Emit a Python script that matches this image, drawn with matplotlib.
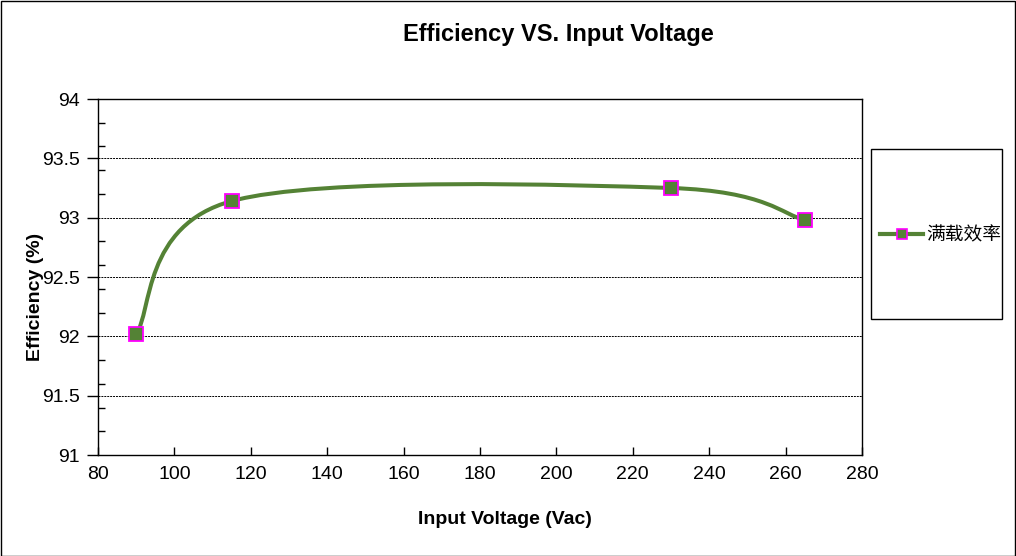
import numpy as np
import matplotlib.pyplot as plt
from matplotlib.path import Path
from matplotlib.patches import PathPatch, Rectangle
from matplotlib.lines import Line2D

plt.rcParams['font.family'] = ['Liberation Sans', 'Noto Sans CJK SC', 'DejaVu Sans']

# data
voltage = [90, 115, 230, 265]
efficiency = [92.02, 93.14, 93.25, 92.98]
series_name = '满载效率'
y_ticks = [91, 91.5, 92, 92.5, 93, 93.5, 94]
x_ticks = [80, 100, 120, 140, 160, 180, 200, 220, 240, 260, 280]

W, H = 1016, 556
fig = plt.figure(figsize=(W / 100, H / 100), dpi=100)
ax = fig.add_axes([98 / W, 1 - 455 / H, (862 - 98) / W, (455 - 99) / H])

line_color = '#548235'

# excel-style smoothed line (bezier through the points)
pts = np.column_stack([voltage, efficiency]).astype(float)
n = len(pts)
verts = [pts[0]]
codes = [Path.MOVETO]
for i in range(n - 1):
    p_prev = pts[i - 1] if i > 0 else pts[i]
    p_next2 = pts[i + 2] if i + 2 < n else pts[i + 1]
    c1 = pts[i] + (pts[i + 1] - p_prev) / 6
    c2 = pts[i + 1] - (p_next2 - pts[i]) / 6
    verts += [c1, c2, pts[i + 1]]
    codes += [Path.CURVE4] * 3
ax.add_patch(PathPatch(Path(verts, codes), facecolor='none', edgecolor=line_color,
                       lw=2.9, capstyle='round', zorder=3))
ax.plot(voltage, efficiency, ls='none', marker='s', ms=10.5, mfc=line_color,
        mec='#FF00FF', mew=1.3, zorder=4)

ax.set_xlim(80, 280)
ax.set_ylim(91, 94)
ax.set_xticks(x_ticks)
ax.set_yticks(y_ticks)
ax.set_yticklabels(['91', '91.5', '92', '92.5', '93', '93.5', '94'])
ax.set_yticks(np.arange(91.2, 94, 0.2), minor=True)
ax.tick_params(axis='y', which='major', direction='out', length=8, width=1,
               labelsize=14, pad=5)
ax.tick_params(axis='y', which='minor', direction='in', length=5, width=1)
ax.tick_params(axis='x', which='major', direction='in', length=6, width=1,
               labelsize=14, pad=8)
for y in y_ticks[1:-1]:
    ax.axhline(y, color='black', lw=0.7, ls=(0, (2, 1)), zorder=1)
for s in ax.spines.values():
    s.set_linewidth(1)

fig.text(558 / W, 1 - 35 / H, 'Efficiency VS. Input Voltage', fontsize=17,
         fontweight='bold', ha='center', va='center')
fig.text(505 / W, 1 - 519 / H, 'Input Voltage (Vac)', fontsize=14,
         fontweight='bold', ha='center', va='center')
fig.text(35 / W, 1 - 297 / H, 'Efficiency (%)', fontsize=14,
         fontweight='bold', ha='center', va='center', rotation=90)

# legend box
fig.patches.append(Rectangle((871 / W, 1 - 319 / H), 131 / W, 170 / H,
                             transform=fig.transFigure, fill=False,
                             edgecolor='black', lw=1))
handle = Line2D([], [], color=line_color, lw=3, marker='s', ms=7,
                mfc=line_color, mec='#FF00FF', mew=1.2)
fig.legend([handle], [series_name], loc='center left',
           bbox_to_anchor=(880 / W, 1 - 235 / H), frameon=False,
           prop={'family': ['Noto Sans CJK SC', 'DejaVu Sans'], 'size': 13.5},
           handlelength=2.3, handletextpad=0.15, borderpad=0, borderaxespad=0)

# outer border
fig.patches.append(Rectangle((0.5 / W, 0.5 / H), (W - 1.5) / W, (H - 1.5) / H,
                             transform=fig.transFigure, fill=False,
                             edgecolor='black', lw=1))

fig.savefig('out.png', dpi=100)
